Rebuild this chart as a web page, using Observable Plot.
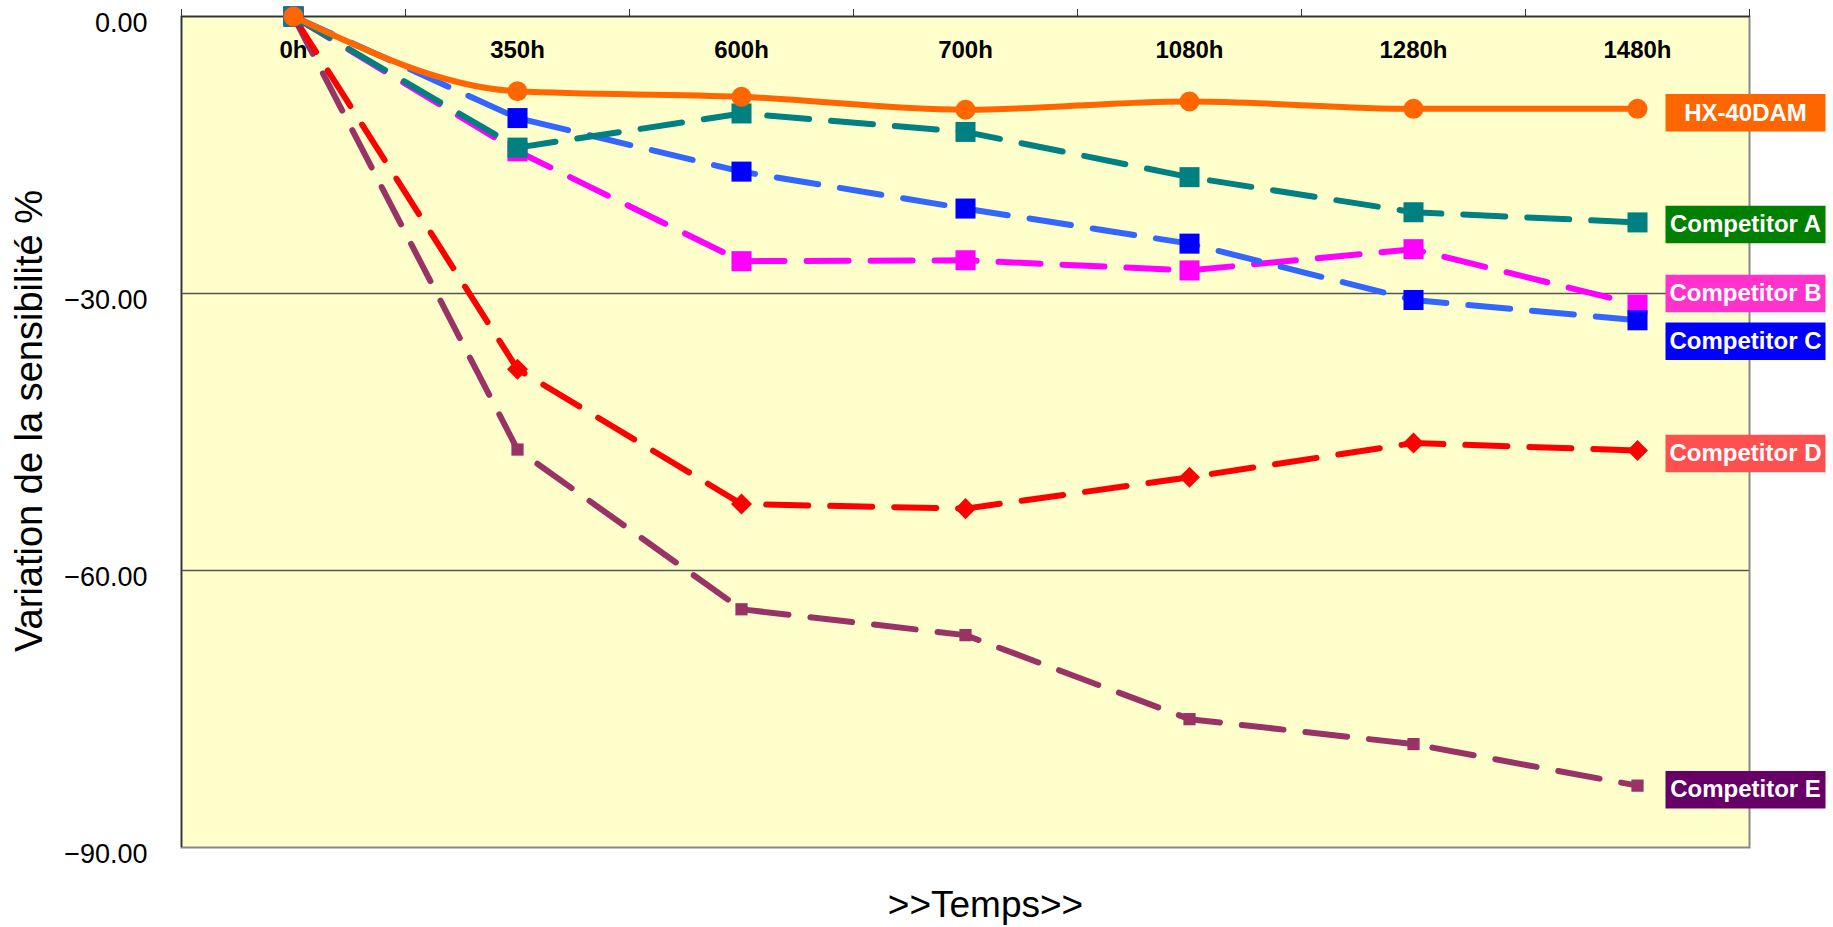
<!DOCTYPE html>
<html><head><meta charset="utf-8">
<script src="https://cdn.jsdelivr.net/npm/d3@7"></script>
<script src="https://cdn.jsdelivr.net/npm/@observablehq/plot@0.6"></script>
<style>html,body{margin:0;padding:0;background:#fff;overflow:hidden}</style>
</head><body><div id="chart"></div>
<script>
// ---- data ----
const categories = ["0h", "350h", "600h", "700h", "1080h", "1280h", "1480h"];
const seriesNames = ["HX-40DAM", "Competitor A", "Competitor B", "Competitor C", "Competitor D", "Competitor E"];
const hx    = [0,  -8.1,  -8.7, -10.1,  -9.2, -10.0, -10.0];
const compA = [0, -14.2, -10.5, -12.5, -17.4, -21.2, -22.3];
const compB = [0, -14.6, -26.5, -26.4, -27.5, -25.2, -31.2];
const compC = [0, -11.0, -16.8, -20.8, -24.6, -30.7, -32.9];
const compD = [0, -38.2, -52.8, -53.3, -49.9, -46.2, -47.0];
const compE = [0, -46.9, -64.2, -67.0, -76.1, -78.8, -83.3];
const yTicks = [0, -30, -60, -90];
const xTitle = ">>Temps>>";
const yTitle = "Variation de la sensibilité %";

// ---- styles ----
const diamondSym = {draw(ctx, size) { const h = Math.sqrt(size / 2); ctx.moveTo(0, -h); ctx.lineTo(h, 0); ctx.lineTo(0, h); ctx.lineTo(-h, 0); ctx.closePath(); }};
const boxSym = {draw(ctx) { ctx.rect(-80, -18.75, 160, 37.5); }};
const styles = {
  "HX-40DAM":     {line: "#FF6600", marker: "#FF6600", dash: null,    curve: "monotone-x", symbol: "circle", r: 10,   bg: "#FF6600", ldy: 4},
  "Competitor A": {line: "#008080", marker: "#008080", dash: "42,22", curve: "linear", symbol: "square", r: 11.3, bg: "#008000", ldy: 2},
  "Competitor B": {line: "#FF00FF", marker: "#FF00FF", dash: "42,22", curve: "linear", symbol: "square", r: 11.3, bg: "#FF33CC", ldy: -11},
  "Competitor C": {line: "#3366FF", marker: "#0000FF", dash: "42,22", curve: "linear", symbol: "square", r: 11.3, bg: "#0000FF", ldy: 21},
  "Competitor D": {line: "#FF0000", marker: "#FF0000", dash: "42,22", curve: "linear", symbol: diamondSym, r: 8.4, bg: "#FF5050", ldy: 3},
  "Competitor E": {line: "#993366", marker: "#993366", dash: "42,22", curve: "linear", symbol: "square", r: 6.9, bg: "#660066", ldy: 4}
};

const seriesValues = [hx, compA, compB, compC, compD, compE];
const seriesData = seriesNames.map((name, k) => seriesValues[k].map((v, i) => ({series: name, i, v})));
const drawOrder = [5, 4, 2, 3, 1, 0];
const boundaries = categories.map((d, i) => i - 0.5).concat([categories.length - 0.5]);

const marks = [
  Plot.frame({fill: "#FFFFCC"}),
  Plot.ruleY(yTicks.filter(t => t !== 0 && t !== -90), {stroke: "#555", strokeWidth: 1.3}),
  Plot.frame({stroke: "#888", strokeWidth: 2}),
  Plot.ruleY([0], {stroke: "#333", strokeWidth: 1.6}),
  Plot.ruleX([-0.5], {stroke: "#333", strokeWidth: 1.5}),
  Plot.axisX(boundaries, {anchor: "top", tickSize: 8, tickFormat: () => "", label: null, stroke: "#333"}),
  Plot.axisY(yTicks, {anchor: "left", tickSize: 0, tickPadding: 34, tickFormat: d3.format(".2f"), fontSize: 27, dy: 7, label: null}),
  Plot.text(categories, {x: (d, i) => i, text: d => d, frameAnchor: "top", dy: 34, lineAnchor: "middle", fontWeight: "bold", fontSize: 24})
];

for (const k of drawOrder) {
  const st = styles[seriesNames[k]];
  marks.push(Plot.line(seriesData[k], {x: "i", y: "v", stroke: st.line, strokeWidth: 6, strokeDasharray: st.dash, curve: st.curve, strokeLinejoin: "round"}));
  marks.push(Plot.dot(seriesData[k], {x: "i", y: "v", fill: st.marker, stroke: "none", symbol: st.symbol, r: st.r}));
}

for (let k = 0; k < seriesNames.length; k++) {
  const st = styles[seriesNames[k]];
  const last = seriesData[k][seriesData[k].length - 1];
  marks.push(Plot.dot([last], {y: "v", frameAnchor: "right", dx: -4, dy: st.ldy, symbol: boxSym, r: 10, fill: st.bg, stroke: "none"}));
  marks.push(Plot.text([last], {y: "v", frameAnchor: "right", dx: -4, dy: st.ldy, text: d => d.series, textAnchor: "middle", lineAnchor: "middle", fill: "white", fontWeight: "bold", fontSize: 24}));
}

marks.push(Plot.text([xTitle], {frameAnchor: "bottom", dx: 20, dy: 58, text: d => d, textAnchor: "middle", lineAnchor: "middle", fontSize: 37}));
marks.push(Plot.text([yTitle], {frameAnchor: "left", dx: -152, dy: -11, rotate: -90, text: d => d, textAnchor: "middle", lineAnchor: "middle", fontSize: 38}));

const chart = Plot.plot({
  width: 1833, height: 927,
  marginLeft: 181, marginRight: 84, marginTop: 16, marginBottom: 80,
  style: {fontFamily: "'Liberation Sans', Arial, sans-serif", background: "white", color: "#000", overflow: "visible"},
  x: {type: "linear", domain: [-0.5, categories.length - 0.5], axis: null},
  y: {domain: [-90, 0], axis: null},
  marks
});
document.getElementById("chart").appendChild(chart);
</script>
</body></html>
